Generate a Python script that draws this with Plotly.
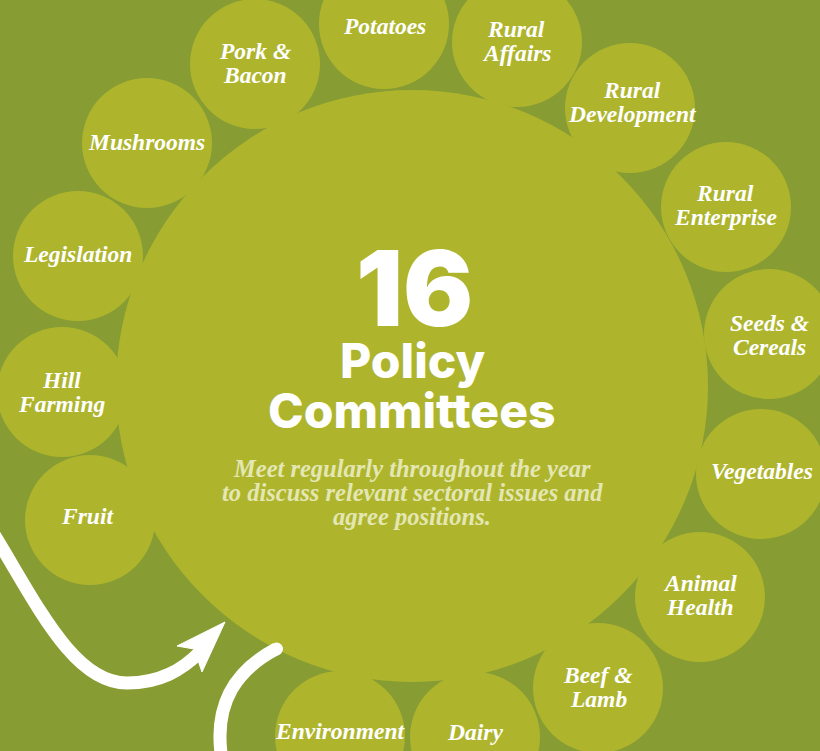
import plotly.graph_objects as go

# ---- data ----
committees = ["Potatoes", "Rural|Affairs", "Rural|Development", "Rural|Enterprise",
              "Seeds &|Cereals", "Vegetables", "Animal|Health", "Beef &|Lamb",
              "Dairy", "Environment", "Fruit", "Hill|Farming", "Legislation",
              "Mushrooms", "Pork &|Bacon"]
circle_x = [384, 517, 630, 726, 769, 761, 700, 598, 475, 340, 90, 62, 78, 147, 255]
circle_y = [24, 42, 108, 207, 334, 474, 597, 688, 737, 736, 520, 392, 256, 143, 64]
label_x = [384, 516, 632, 725, 769, 762, 700, 598, 475, 340, 87, 61, 77, 146, 255]
label_y = [26, 41, 102, 205, 335, 471, 595, 687, 732, 731, 516, 392, 254, 142, 63]
small_r = 65

count_text = "16"
title_lines = ["Policy", "Committees"]
subtitle_lines = ["Meet regularly throughout the year",
                  "to discuss relevant sectoral issues and",
                  "agree positions."]

BG = "#879d33"
CIRC = "#aeb52d"
SUB = "#e4e7b4"

W, H = 820, 751
fig = go.Figure()
fig.add_trace(go.Scatter(x=[0, W], y=[0, H], mode="markers",
                         marker=dict(opacity=0), hoverinfo="skip", showlegend=False))

shapes = []
# main circle
mx, my, mr = 412, 386, 296
shapes.append(dict(type="circle", xref="x", yref="y", x0=mx - mr, x1=mx + mr,
                   y0=my - mr, y1=my + mr, fillcolor=CIRC, line=dict(width=0), layer="below"))
for cx, cy in zip(circle_x, circle_y):
    shapes.append(dict(type="circle", xref="x", yref="y", x0=cx - small_r, x1=cx + small_r,
                       y0=cy - small_r, y1=cy + small_r, fillcolor=CIRC,
                       line=dict(width=0), layer="below"))

# arrows
shapes.append(dict(type="path", xref="x", yref="y",
                   path="M -10,528 C 35,600 72,683 127,683 C 160,683 182,670 200,652",
                   line=dict(color="white", width=13), layer="above"))
shapes.append(dict(type="path", xref="x", yref="y",
                   path="M 225,622 L 177,646 L 194,649 L 202,672 Z",
                   fillcolor="white", line=dict(color="white", width=1), layer="above"))
shapes.append(dict(type="path", xref="x", yref="y",
                   path="M 276,649 C 240,668 212,700 222,760",
                   line=dict(color="white", width=13), layer="above"))
shapes.append(dict(type="circle", xref="x", yref="y", x0=270, x1=283, y0=642.5, y1=655.5,
                   fillcolor="white", line=dict(width=0), layer="above"))

annotations = []
serif = "Liberation Serif"
for lab, lx, ly in zip(committees, label_x, label_y):
    lines = lab.split("|")
    n = len(lines)
    for i, line in enumerate(lines):
        yy = ly + (i - (n - 1) / 2) * 23.5
        annotations.append(dict(x=lx, y=yy, xref="x", yref="y", text=f"<b><i>{line}</i></b>",
                                showarrow=False, xanchor="center", yanchor="middle",
                                font=dict(family=serif, size=23.5, color="white")))

sans = "Inter"
annotations.append(dict(x=414, y=288, xref="x", yref="y", text=count_text,
                        showarrow=False, font=dict(family=sans, size=104, color="white", weight=900)))
for i, t in enumerate(title_lines):
    annotations.append(dict(x=412, y=360 + i * 50, xref="x", yref="y", text=t,
                            showarrow=False, font=dict(family=sans, size=48, color="white", weight=800)))
for i, t in enumerate(subtitle_lines):
    annotations.append(dict(x=412, y=468 + i * 24, xref="x", yref="y", text=f"<b><i>{t}</i></b>",
                            showarrow=False, font=dict(family=serif, size=24.5, color=SUB)))

fig.update_layout(
    width=W, height=H, margin=dict(l=0, r=0, t=0, b=0),
    paper_bgcolor=BG, plot_bgcolor=BG,
    xaxis=dict(range=[0, W], visible=False, fixedrange=True),
    yaxis=dict(range=[H, 0], visible=False, fixedrange=True),
    shapes=shapes, annotations=annotations, showlegend=False,
)
fig.write_html("out.html", config={"displayModeBar": False},
               post_script="document.body.style.margin='0';document.body.style.overflow='hidden';")
